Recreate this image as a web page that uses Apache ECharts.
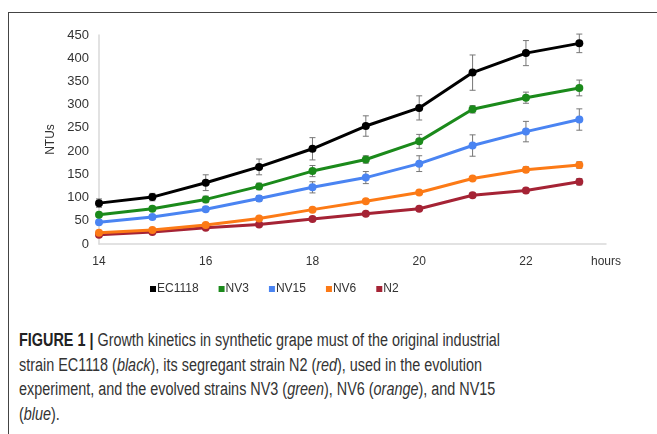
<!DOCTYPE html>
<html>
<head>
<meta charset="utf-8">
<script src="https://cdn.jsdelivr.net/npm/echarts@6/dist/echarts.min.js"></script>
<style>
  html, body { margin: 0; padding: 0; background: #fff; }
  body { width: 657px; height: 434px; position: relative; overflow: hidden; }
  .frame {
    position: absolute; left: 8px; top: 12px; width: 700px; height: 500px;
    border-left: 1.5px solid #444; border-top: 1.5px solid #444;
  }
  #chart { position: absolute; left: 0; top: 0; width: 657px; height: 310px; }
  .caption {
    position: absolute; left: 19px; top: 328px; width: 760px;
    font-family: "Liberation Sans", Arial, sans-serif;
    font-size: 18px; line-height: 24.5px; color: #333;
    transform: scaleX(0.80); transform-origin: 0 0;
  }
  .caption b { color: #222; }
</style>
</head>
<body>
<div class="frame"></div>
<div id="chart"></div>
<div class="caption"><b>FIGURE 1 |</b> Growth kinetics in synthetic grape must of the original industrial<br>
strain EC1118 (<i>black</i>), its segregant strain N2 (<i>red</i>), used in the evolution<br>
experiment, and the evolved strains NV3 (<i>green</i>), NV6 (<i>orange</i>), and NV15<br>
(<i>blue</i>).</div>
<script>
const hours = [14, 15, 16, 17, 18, 19, 20, 21, 22, 23]

const seriesNames = ['EC1118', 'NV3', 'NV15', 'NV6', 'N2']
const seriesColors = ['#000000', '#1b8a1b', '#4a84f2', '#fc7a16', '#a52335']

const ec1118 = [88, 101, 132, 166, 205, 254, 293, 369, 411, 432]
const nv3 = [63, 76, 96, 124, 157, 182, 221, 290, 315, 336]
const nv15 = [47, 58, 75, 98, 122, 143, 173, 212, 242, 268]
const nv6 = [24, 30, 41, 55, 74, 92, 111, 141, 160, 170]
const n2 = [20, 26, 35, 42, 54, 65, 76, 105, 115, 134]

const ec1118Err = [9, 8, 17, 17, 24, 22, 26, 38, 27, 20]
const nv3Err = [3, 4, 7, 7, 12, 8, 15, 8, 12, 17]
const nv15Err = [3, 4, 5, 6, 12, 13, 17, 23, 22, 23]
const nv6Err = [3, 3, 3, 3, 3, 3, 3, 4, 6, 7]
const n2Err = [3, 3, 3, 3, 3, 3, 3, 5, 5, 7]

const values = [ec1118, nv3, nv15, nv6, n2]
const errors = [ec1118Err, nv3Err, nv15Err, nv6Err, n2Err]

const chart = echarts.init(document.getElementById('chart'))

const lineSeries = seriesNames.map((name, i) => ({
  name,
  type: 'line',
  data: hours.map((h, j) => [h, values[i][j]]),
  symbol: 'circle',
  symbolSize: 8,
  z: 3 + (5 - i),
  lineStyle: { color: seriesColors[i], width: 3 },
  itemStyle: { color: seriesColors[i] },
  emphasis: { disabled: true },
}))

const errorSeries = seriesNames.map((name, i) => ({
  name: name + ' err',
  type: 'custom',
  z: 2,
  data: hours.map((h, j) => [h, values[i][j] - errors[i][j], values[i][j] + errors[i][j]]),
  renderItem(params, api) {
    const lo = api.coord([api.value(0), api.value(1)])
    const hi = api.coord([api.value(0), api.value(2)])
    const cap = 3
    const style = { stroke: '#777', lineWidth: 1 }
    return {
      type: 'group',
      children: [
        { type: 'line', shape: { x1: hi[0], y1: hi[1], x2: lo[0], y2: lo[1] }, style },
        { type: 'line', shape: { x1: hi[0] - cap, y1: hi[1], x2: hi[0] + cap, y2: hi[1] }, style },
        { type: 'line', shape: { x1: lo[0] - cap, y1: lo[1], x2: lo[0] + cap, y2: lo[1] }, style },
      ],
    }
  },
}))

chart.setOption({
  animation: false,
  textStyle: { fontFamily: 'Liberation Sans, Arial, sans-serif' },
  grid: { left: 99, top: 35, width: 507, height: 209 },
  legend: {
    data: seriesNames,
    left: 145,
    top: 278,
    icon: 'rect',
    itemWidth: 6,
    itemHeight: 6,
    itemGap: 20,
    textStyle: { fontSize: 12, color: '#333', padding: [0, 0, 0, -4] },
  },
  xAxis: {
    type: 'value',
    min: 14,
    max: 23.5,
    interval: 2,
    name: 'hours',
    nameLocation: 'end',
    nameGap: 0,
    nameTextStyle: { fontSize: 12, color: '#333', align: 'center', verticalAlign: 'top', padding: [12, 0, 0, 0] },
    axisLine: { lineStyle: { color: '#d9d9d9', width: 1.5 } },
    axisTick: { show: false },
    splitLine: { show: false },
    axisLabel: {
      fontSize: 12, color: '#333', margin: 12,
      formatter: (v) => (v % 2 === 0 ? String(v) : ''),
    },
  },
  yAxis: {
    type: 'value',
    min: 0,
    max: 450,
    interval: 50,
    name: 'NTUs',
    nameLocation: 'middle',
    nameRotate: 90,
    nameGap: 37,
    nameTextStyle: { fontSize: 12, color: '#333' },
    axisLine: { show: true, lineStyle: { color: '#d9d9d9', width: 1.5 } },
    axisTick: { show: false },
    splitLine: { show: false },
    axisLabel: { fontSize: 13, color: '#333', margin: 10 },
  },
  series: [...errorSeries, ...lineSeries],
})
</script>
</body>
</html>
